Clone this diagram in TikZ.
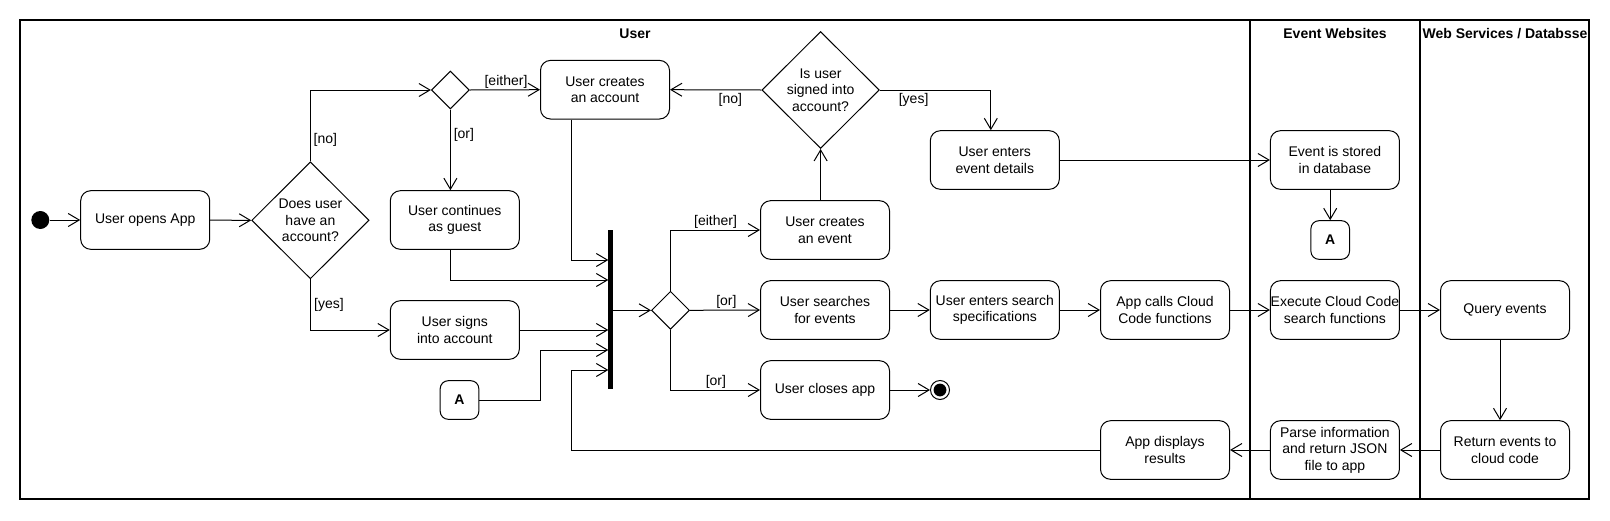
\documentclass[tikz,border=0pt]{standalone}
\usepackage{fontspec}
\setmainfont{Liberation Sans}
\usetikzlibrary{arrows.meta,shapes.geometric,calc}
\begin{document}
\begin{tikzpicture}[x=0.5pt,y=-0.5pt,
  every node/.style={font=\fontsize{7}{8.3}\selectfont},
  act/.style={draw, rounded corners=5pt, minimum width=64.5pt, minimum height=29.3pt, inner sep=0pt, align=center, line width=0.5pt, fill=white},
  conn/.style={draw, rounded corners=4pt, minimum width=19.3pt, minimum height=19.3pt, inner sep=0pt, font=\fontsize{7}{8.3}\selectfont\bfseries, line width=0.5pt},
  dec/.style={draw, diamond, inner sep=0pt, minimum width=19pt, minimum height=19pt, line width=0.5pt, align=center},
  bigdec/.style={dec, minimum width=58.7pt, minimum height=58.5pt},
  guard/.style={inner sep=0pt},
  flow/.style={line width=0.5pt, -{Straight Barb[length=5.5pt,width=6.5pt]}},
  lane/.style={line width=0.8pt},
  lanetitle/.style={font=\fontsize{7}{8.3}\selectfont\bfseries}
]
\useasboundingbox (0,0) rectangle (1610,520);
\fill[white] (0,0) rectangle (1610,520);
% swimlanes
\draw[lane] (20,20) rectangle (1589,499);
\draw[lane] (1250,20) -- (1250,499);
\draw[lane] (1420,20) -- (1420,499);
\node[lanetitle] (tUser) at (635,33.3) {User};
\node[lanetitle] (tEvent) at (1335,33.3) {Event Websites};
\node[lanetitle] (tWeb) at (1505,33.3) {Web Services / Databsse};

% nodes
\node[circle, fill=black, minimum size=9pt, inner sep=0pt] (start) at (40.3,220) {};
\node[act] (open) at (145.2,220) {User opens App};
\node[bigdec] (d1) at (310.4,220.3) {Does user\\have an\\account?};
\node[dec] (d2) at (450.4,90) {};
\node[act] (create) at (605,89.7) {User creates\\an account};
\node[act] (guest) at (454.8,220) {User continues\\as guest};
\node[act] (signs) at (454.8,330) {User signs\\into account};
\node[conn] (aIn) at (459.5,400) {A};
\node[fill=black, minimum width=2.3pt, minimum height=79.5pt, inner sep=0pt] (bar) at (610.5,309.5) {};
\node[dec] (d4) at (670.5,310.3) {};
\node[bigdec] (d3) at (820.6,90) {Is user\\signed into\\account?};
\node[act] (details) at (994.8,160) {User enters\\event details};
\node[act] (cevent) at (825,230) {User creates\\an event};
\node[act] (search) at (825,310) {User searches\\for events};
\node[act] (close) at (825,390) {User closes app};
\node[circle, draw, minimum size=9.5pt, inner sep=0pt, line width=0.5pt] (end) at (940,390) {};
\fill (end.center) circle (3.2pt);
\node[act] (spec) at (994.8,310) {User enters search\\specifications};
\node[act] (stored) at (1334.9,160) {Event is stored\\in database};
\node[conn] (aOut) at (1330.2,240) {A};
\node[act] (calls) at (1165,310) {App calls Cloud\\Code functions};
\node[act] (exec) at (1334.9,310) {Execute Cloud Code\\search functions};
\node[act] (query) at (1505,310) {Query events};
\node[act] (ret) at (1505,450) {Return events to\\cloud code};
\node[act] (parse) at (1334.9,450) {Parse information\\and return JSON\\file to app};
\node[act] (disp) at (1165,450) {App displays\\results};

% bar entry points
\coordinate (b1) at (608.3,260);
\coordinate (b2) at (608.3,280);
\coordinate (b3) at (608.3,330);
\coordinate (b4) at (608.3,350);
\coordinate (b5) at (608.3,370);
\coordinate (k) at ([xshift=-17pt]create.south);

% connectors
\draw[flow] (start) -- (open);
\draw[flow] (open) -- (d1.west);
\draw[flow] (d1.north) |- (d2.west);
\draw[flow] (d2.east) -- (create.west);
\draw[flow] (d2.south) -- (d2.south |- guest.north);
\draw[flow] (d1.south) |- (signs.west);
\draw[flow] (k) |- (b1);
\draw[flow] ([xshift=-2pt]guest.south) |- (b2);
\draw[flow] (signs.east) -- (b3);
\draw[flow] (aIn.east) -- ++(61.2,0) |- (b4);
\draw[flow] (disp.west) -- (disp.west -| k) |- (b5);
\draw[flow] (bar.east |- d4.west) -- (d4.west);
\draw[flow] (d4.north) |- (cevent.west);
\draw[flow] (d4.east) -- (search.west);
\draw[flow] (d4.south) |- (close.west);
\draw[flow] (close.east) -- (end.west);
\draw[flow] (cevent.north -| d3.south) -- (d3.south);
\draw[flow] (d3.west) -- (create.east);
\draw[flow] (d3.east) -| ([xshift=-2pt]details.north);
\draw[flow] (details.east) -- (stored.west);
\draw[flow] (aOut.north |- stored.south) -- (aOut.north);
\draw[flow] (search.east) -- (spec.west);
\draw[flow] (spec.east) -- (calls.west);
\draw[flow] (calls.east) -- (exec.west);
\draw[flow] (exec.east) -- (query.west);
\draw[flow] ([xshift=-2.5pt]query.south) -- ([xshift=-2.5pt]ret.north);
\draw[flow] (ret.west) -- (parse.east);
\draw[flow] (parse.west) -- (disp.east);

% guards
\node[guard] (gNo1) at (325.3,140) {[no]};
\node[guard] (gEither1) at (506,81.7) {[either]};
\node[guard] (gOr1) at (463.9,135) {[or]};
\node[guard] (gYes1) at (329,305) {[yes]};
\node[guard] (gNo2) at (730.3,100) {[no]};
\node[guard] (gYes2) at (913.6,100) {[yes]};
\node[guard] (gEither2) at (715.6,221.7) {[either]};
\node[guard] (gOr2) at (726.4,301.7) {[or]};
\node[guard] (gOr3) at (715.9,382.3) {[or]};
\end{tikzpicture}
\end{document}
